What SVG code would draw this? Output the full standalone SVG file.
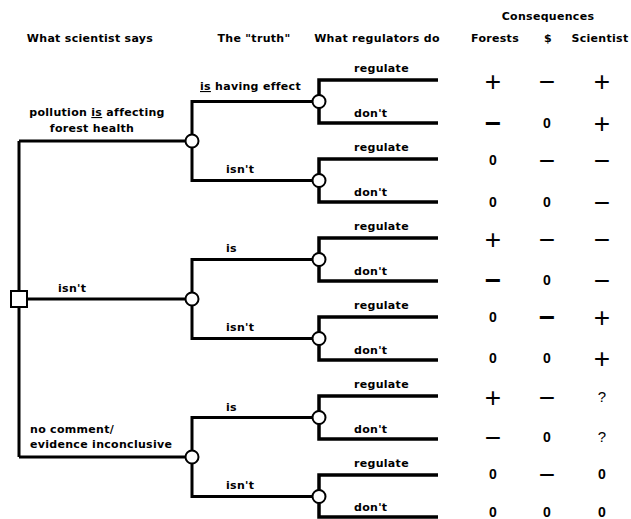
<svg xmlns="http://www.w3.org/2000/svg" width="631" height="519" viewBox="0 0 631 519">
<style>
text{font-family:"DejaVu Sans","Liberation Sans",sans-serif;font-weight:bold;font-size:11px;letter-spacing:0.3px;fill:#000}
.mid{text-anchor:middle}
.sym{font-family:"Liberation Sans",Arial,sans-serif;font-size:28px;font-weight:normal;letter-spacing:0;text-anchor:middle}
.symb{font-family:"Liberation Sans",Arial,sans-serif;font-size:28px;font-weight:bold;letter-spacing:0;text-anchor:middle}
.num{font-family:"Liberation Sans",Arial,sans-serif;font-size:14px;font-weight:bold;letter-spacing:0;text-anchor:middle}
.q{font-family:"Liberation Sans",Arial,sans-serif;font-size:15px;font-weight:normal;letter-spacing:0;text-anchor:middle}
.edge{fill:none;stroke:#000;stroke-width:3;stroke-linejoin:miter}
.leaf{fill:none;stroke:#000;stroke-width:3.5;stroke-linejoin:miter}
.chance{fill:#fff;stroke:#000;stroke-width:2}
.decision{fill:#fff;stroke:#000;stroke-width:2}
</style>
<rect width="631" height="519" fill="#fff"/>

<g id="headers">
<text x="90" y="42" class="mid">What scientist says</text>
<text x="254" y="42" class="mid">The "truth"</text>
<text x="377" y="42" class="mid">What regulators do</text>
<text x="548" y="20" class="mid">Consequences</text>
<text x="495" y="42" class="mid">Forests</text>
<text x="548" y="42" class="mid">$</text>
<text x="600" y="42" class="mid">Scientist</text>
</g>

<g id="connectors">
<path class="edge" d="M19 141 V457"/>
<path class="edge" d="M19 141 H192"/>
<path class="edge" d="M19 299 H192"/>
<path class="edge" d="M19 457 H192"/>
<path class="edge" d="M319 101.5 H192 V180.5 H319"/>
<path class="edge" d="M319 259.5 H192 V338.5 H319"/>
<path class="edge" d="M319 417.5 H192 V496.5 H319"/>
<path class="leaf" d="M438 80 H319 V123 H438"/>
<path class="leaf" d="M438 159 H319 V202 H438"/>
<path class="leaf" d="M438 238 H319 V281 H438"/>
<path class="leaf" d="M438 317 H319 V360 H438"/>
<path class="leaf" d="M438 396 H319 V439 H438"/>
<path class="leaf" d="M438 475 H319 V517 H438"/>
</g>

<g id="edge-labels">
<text x="97" y="116" class="mid">pollution <tspan text-decoration="underline">is</tspan> affecting</text>
<text x="92" y="132" class="mid">forest health</text>
<text x="58" y="292">isn't</text>
<text x="30" y="433">no comment/</text>
<text x="30" y="448">evidence inconclusive</text>
<text x="200" y="90"><tspan text-decoration="underline">is</tspan> having effect</text>
<text x="226" y="173">isn't</text>
<text x="226" y="252">is</text>
<text x="226" y="331">isn't</text>
<text x="226" y="411">is</text>
<text x="226" y="489">isn't</text>
<text x="354" y="72">regulate</text>
<text x="354" y="117">don't</text>
<text x="354" y="151">regulate</text>
<text x="354" y="196">don't</text>
<text x="354" y="230">regulate</text>
<text x="354" y="275">don't</text>
<text x="354" y="309">regulate</text>
<text x="354" y="354">don't</text>
<text x="354" y="388">regulate</text>
<text x="354" y="433">don't</text>
<text x="354" y="467">regulate</text>
<text x="354" y="511">don't</text>
</g>

<g id="root"><rect class="decision" x="11" y="291" width="16" height="16"/></g>
<g id="n-says-is"><circle class="chance" cx="192" cy="141" r="6.5"/></g>
<g id="n-says-isnt"><circle class="chance" cx="192" cy="299" r="6.5"/></g>
<g id="n-says-nocomment"><circle class="chance" cx="192" cy="457" r="6.5"/></g>
<g id="n-1-is"><circle class="chance" cx="319" cy="101.5" r="6.5"/></g>
<g id="n-1-isnt"><circle class="chance" cx="319" cy="180.5" r="6.5"/></g>
<g id="n-2-is"><circle class="chance" cx="319" cy="259.5" r="6.5"/></g>
<g id="n-2-isnt"><circle class="chance" cx="319" cy="338.5" r="6.5"/></g>
<g id="n-3-is"><circle class="chance" cx="319" cy="417.5" r="6.5"/></g>
<g id="n-3-isnt"><circle class="chance" cx="319" cy="496.5" r="6.5"/></g>

<g id="consequences">
<text class="sym" x="493" y="91">+</text><text class="sym" x="547" y="91">−</text><text class="sym" x="602" y="91">+</text>
<text class="symb" x="493" y="133">−</text><text class="num" x="547" y="128">0</text><text class="sym" x="602" y="133">+</text>
<text class="num" x="493" y="165">0</text><text class="sym" x="547" y="170">−</text><text class="sym" x="602" y="170">−</text>
<text class="num" x="493" y="207">0</text><text class="num" x="547" y="207">0</text><text class="sym" x="602" y="212">−</text>
<text class="sym" x="493" y="249">+</text><text class="sym" x="547" y="249">−</text><text class="sym" x="602" y="249">−</text>
<text class="symb" x="493" y="290">−</text><text class="num" x="547" y="285">0</text><text class="sym" x="602" y="290">−</text>
<text class="num" x="493" y="322">0</text><text class="symb" x="547" y="327">−</text><text class="sym" x="602" y="327">+</text>
<text class="num" x="493" y="363">0</text><text class="num" x="547" y="363">0</text><text class="sym" x="602" y="368">+</text>
<text class="sym" x="493" y="407">+</text><text class="sym" x="547" y="407">−</text><text class="q" x="602" y="402">?</text>
<text class="sym" x="493" y="447">−</text><text class="num" x="547" y="442">0</text><text class="q" x="602" y="442">?</text>
<text class="num" x="493" y="479">0</text><text class="sym" x="547" y="484">−</text><text class="num" x="602" y="479">0</text>
<text class="num" x="493" y="517">0</text><text class="num" x="547" y="517">0</text><text class="num" x="602" y="517">0</text>
</g>
</svg>
